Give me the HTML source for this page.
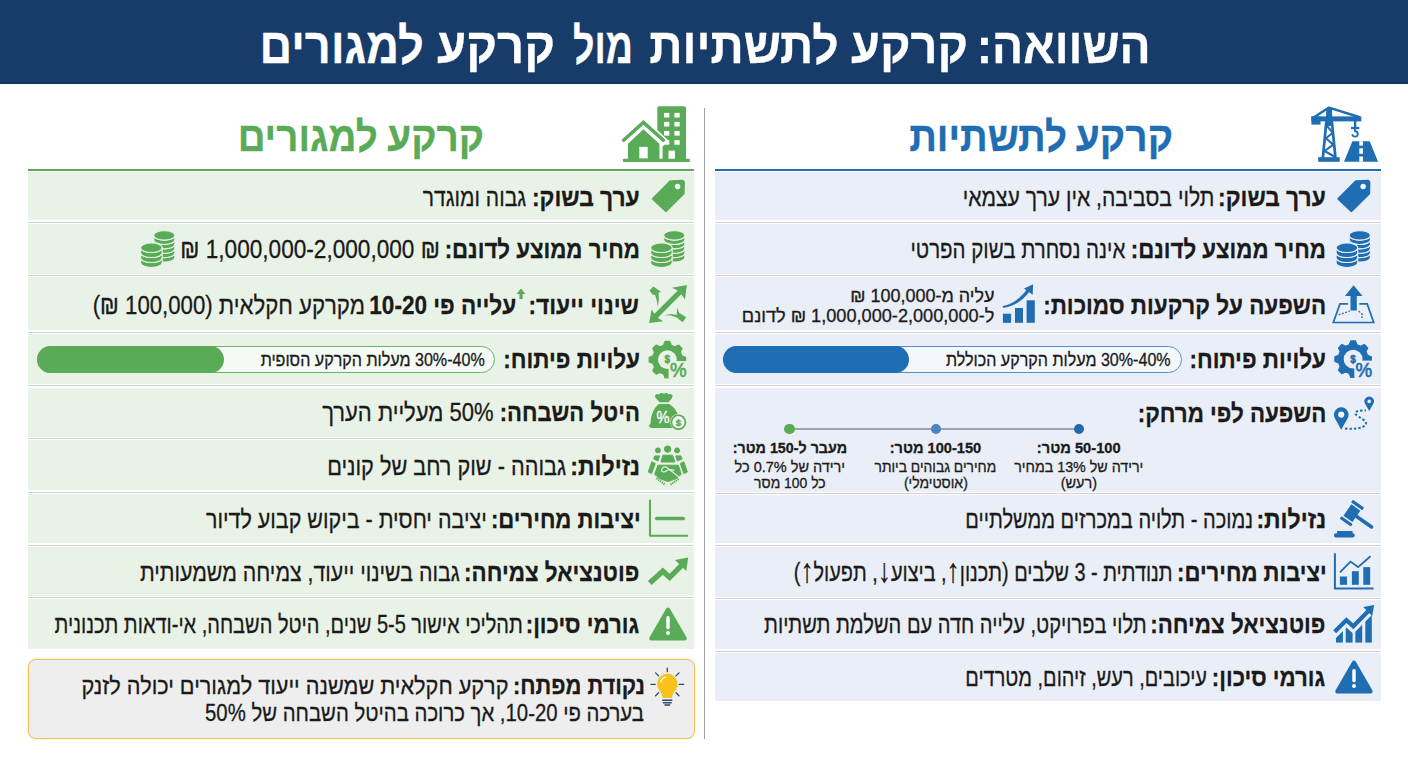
<!DOCTYPE html>
<html lang="he">
<head>
<meta charset="utf-8">
<title>השוואה: קרקע לתשתיות מול קרקע למגורים</title>
<style>
html,body{margin:0;padding:0}
body{width:1408px;height:768px;position:relative;overflow:hidden;background:#fff;font-family:'Liberation Sans', sans-serif}
.t{position:absolute;white-space:nowrap;direction:rtl;transform-origin:right center;font-family:'Liberation Sans', sans-serif}
.row{position:absolute}
.sep{position:absolute;height:1px;background:#cfd0d2}
.abs{position:absolute}
svg{position:absolute;overflow:visible}
</style>
</head>
<body>

<div class="abs" style="left:0;top:0;width:1408px;height:84.4px;background:#183c69;box-shadow:inset 0 -1.5px 0 #11305a"></div>
<div class="abs" style="left:704px;top:108px;width:1.3px;height:631px;background:#a3a4a8"></div>
<div class="abs" style="left:715px;top:168.7px;width:666px;height:2.3px;background:#1f6db3"></div>
<div class="abs" style="left:27.5px;top:168.7px;width:666.5px;height:2.3px;background:#5aab57"></div>
<div class="row" style="left:715px;width:666px;top:172px;height:48px;background:#eaeef7"></div>
<div class="row" style="left:715px;width:666px;top:224px;height:50px;background:#eaeef7"></div>
<div class="row" style="left:715px;width:666px;top:277px;height:53px;background:#eaeef7"></div>
<div class="row" style="left:715px;width:666px;top:334px;height:50px;background:#eaeef7"></div>
<div class="row" style="left:715px;width:666px;top:387.5px;height:104.5px;background:#eaeef7"></div>
<div class="row" style="left:715px;width:666px;top:495px;height:48px;background:#eaeef7"></div>
<div class="row" style="left:715px;width:666px;top:547px;height:49.5px;background:#eaeef7"></div>
<div class="row" style="left:715px;width:666px;top:599.5px;height:49.5px;background:#eaeef7"></div>
<div class="row" style="left:715px;width:666px;top:653px;height:48.299999999999955px;background:#eaeef7"></div>
<div class="row" style="left:27.5px;width:666.5px;top:172px;height:48px;background:#e9f2e6"></div>
<div class="row" style="left:27.5px;width:666.5px;top:224px;height:50px;background:#e9f2e6"></div>
<div class="row" style="left:27.5px;width:666.5px;top:277px;height:53px;background:#e9f2e6"></div>
<div class="row" style="left:27.5px;width:666.5px;top:334px;height:50px;background:#e9f2e6"></div>
<div class="row" style="left:27.5px;width:666.5px;top:387.5px;height:49.0px;background:#e9f2e6"></div>
<div class="row" style="left:27.5px;width:666.5px;top:440px;height:50px;background:#e9f2e6"></div>
<div class="row" style="left:27.5px;width:666.5px;top:494px;height:49px;background:#e9f2e6"></div>
<div class="row" style="left:27.5px;width:666.5px;top:547px;height:49px;background:#e9f2e6"></div>
<div class="row" style="left:27.5px;width:666.5px;top:599px;height:49.799999999999955px;background:#e9f2e6"></div>
<div class="sep" style="left:715px;width:666px;top:221.5px"></div>
<div class="sep" style="left:715px;width:666px;top:275.0px"></div>
<div class="sep" style="left:715px;width:666px;top:331.5px"></div>
<div class="sep" style="left:715px;width:666px;top:385.25px"></div>
<div class="sep" style="left:715px;width:666px;top:493.0px"></div>
<div class="sep" style="left:715px;width:666px;top:544.5px"></div>
<div class="sep" style="left:715px;width:666px;top:597.5px"></div>
<div class="sep" style="left:715px;width:666px;top:650.5px"></div>
<div class="sep" style="left:27.5px;width:666.5px;top:221.5px"></div>
<div class="sep" style="left:27.5px;width:666.5px;top:275.0px"></div>
<div class="sep" style="left:27.5px;width:666.5px;top:331.5px"></div>
<div class="sep" style="left:27.5px;width:666.5px;top:385.25px"></div>
<div class="sep" style="left:27.5px;width:666.5px;top:437.75px"></div>
<div class="sep" style="left:27.5px;width:666.5px;top:491.5px"></div>
<div class="sep" style="left:27.5px;width:666.5px;top:544.5px"></div>
<div class="sep" style="left:27.5px;width:666.5px;top:597.0px"></div>
<!-- progress bars -->
<div class="abs" style="left:723px;top:346.4px;width:458.5px;height:26.6px;border-radius:14px;box-sizing:border-box;border:1.3px solid #5a8ec6;background:#f4f7fc"></div>
<div class="abs" style="left:723px;top:346.4px;width:186px;height:26.6px;border-radius:14px;background:#1f6db3"></div>
<div class="abs" style="left:37px;top:346.4px;width:458px;height:26.6px;border-radius:14px;box-sizing:border-box;border:1.3px solid #6ab368;background:#f5faf4"></div>
<div class="abs" style="left:37px;top:346.4px;width:186.5px;height:26.6px;border-radius:14px;background:#5aab57"></div>
<!-- timeline -->
<div class="abs" style="left:789.5px;top:428px;width:290px;height:2px;background:#9ea3ab"></div>
<div class="abs" style="left:1073.7px;top:423.7px;width:10.6px;height:10.6px;border-radius:50%;background:#2469ae"></div>
<div class="abs" style="left:930.6px;top:423.7px;width:10.6px;height:10.6px;border-radius:50%;background:#4a86bf"></div>
<div class="abs" style="left:784.2px;top:423.7px;width:10.6px;height:10.6px;border-radius:50%;background:#5aab57"></div>
<!-- key box -->
<div class="abs" style="left:28px;top:659px;width:666.5px;height:80px;box-sizing:border-box;border:1.5px solid #e8c25f;border-radius:8px;background:#eeeeee;box-shadow:0 0 3px rgba(236,196,90,.55)"></div>
<svg width="1408" height="768" viewBox="0 0 1408 768" style="left:0;top:0">
<g fill="#1f6db3" stroke="none">
<rect x="1311.4" y="116.4" width="49.9" height="5"/>
<rect x="1311.4" y="116.4" width="9.1" height="8.2"/>
<polygon points="1326.3,108.5 1331.9,108.5 1332.6,126.0 1325.6,126.0"/>
<rect x="1318.2" y="157.2" width="21.5" height="4.6"/>
<rect x="1354" y="121" width="2.3" height="6.2"/>
<rect x="1351" y="126.9" width="8.3" height="2.3"/>
<polygon points="1344.0,161.8 1352.4,141.2 1369.7,141.2 1378.1,161.8"/>
</g>
<g fill="none" stroke="#1f6db3" stroke-linejoin="round" stroke-linecap="round">
<path d="M1314.4,117 L1329,107.6 L1359,117" stroke-width="2.4"/>
<path d="M1326.3,122 L1322.9,157.5 M1331.9,122 L1335.4,157.5" stroke-width="2.7"/>
<path d="M1327.3,126.4 L1332.8,132.8 L1326,138.3 L1333.3,144.7 L1324.6,151 L1334.2,156.5" stroke-width="2.1"/>
<path d="M1355,129.2 L1355,131.3 C1358.6,131.6 1358.8,136.6 1355.2,136.6 C1353.6,136.6 1352.6,135.8 1352.4,134.9" stroke-width="1.9"/>
</g>
<g fill="#ffffff"><rect x="1359.3" y="141.2" width="3.6" height="4.4"/><rect x="1359.3" y="148.3" width="3.6" height="5.5"/><rect x="1359.3" y="156.5" width="3.6" height="5.3"/></g>
<polygon points="1356.0,181.4 1368.2,180.9 1369.2,182.2 1369.0,193.3 1351.4,211.0 1338.6,198.8" fill="#1f6db3" stroke="#1f6db3" stroke-width="2.4" stroke-linejoin="round"/>
<circle cx="1363.1" cy="186.5" r="2.7" fill="#f4f7fc"/>
<polygon points="670.5,181.4 682.7,180.9 683.7,182.2 683.5,193.3 665.9,211.0 653.1,198.8" fill="#5aab57" stroke="#5aab57" stroke-width="2.4" stroke-linejoin="round"/>
<circle cx="677.5999999999999" cy="186.5" r="2.7" fill="#f4faf2"/>
<path d="M1349.2,253.0 L1349.2,257.4 A10.6,4.7 0 0 0 1370.4,257.4 L1370.4,253.0 A10.6,4.7 0 0 1 1349.2,253.0 Z" fill="#1f6db3" stroke="#eaeef7" stroke-width="1.1"/>
<path d="M1349.2,248.6 L1349.2,253.0 A10.6,4.7 0 0 0 1370.4,253.0 L1370.4,248.6 A10.6,4.7 0 0 1 1349.2,248.6 Z" fill="#1f6db3" stroke="#eaeef7" stroke-width="1.1"/>
<path d="M1349.2,244.2 L1349.2,248.6 A10.6,4.7 0 0 0 1370.4,248.6 L1370.4,244.2 A10.6,4.7 0 0 1 1349.2,244.2 Z" fill="#1f6db3" stroke="#eaeef7" stroke-width="1.1"/>
<path d="M1349.2,239.8 L1349.2,244.2 A10.6,4.7 0 0 0 1370.4,244.2 L1370.4,239.8 A10.6,4.7 0 0 1 1349.2,239.8 Z" fill="#1f6db3" stroke="#eaeef7" stroke-width="1.1"/>
<path d="M1349.2,235.4 L1349.2,239.8 A10.6,4.7 0 0 0 1370.4,239.8 L1370.4,235.4 A10.6,4.7 0 0 1 1349.2,235.4 Z" fill="#1f6db3" stroke="#eaeef7" stroke-width="1.1"/>
<ellipse cx="1359.8" cy="235.4" rx="10.6" ry="4.7" fill="#1f6db3" stroke="#eaeef7" stroke-width="1.1"/>
<path d="M1336.1,257.8 L1336.1,262.7 A10.8,4.74 0 0 0 1357.7,262.7 L1357.7,257.8 A10.8,4.74 0 0 1 1336.1,257.8 Z" fill="#1f6db3" stroke="#eaeef7" stroke-width="1.1"/>
<path d="M1336.1,252.8 L1336.1,257.8 A10.8,4.74 0 0 0 1357.7,257.8 L1357.7,252.8 A10.8,4.74 0 0 1 1336.1,252.8 Z" fill="#1f6db3" stroke="#eaeef7" stroke-width="1.1"/>
<path d="M1336.1,247.8 L1336.1,252.8 A10.8,4.74 0 0 0 1357.7,252.8 L1357.7,247.8 A10.8,4.74 0 0 1 1336.1,247.8 Z" fill="#1f6db3" stroke="#eaeef7" stroke-width="1.1"/>
<ellipse cx="1346.9" cy="247.8" rx="10.8" ry="4.74" fill="#1f6db3" stroke="#eaeef7" stroke-width="1.1"/>
<path d="M663.7,253.0 L663.7,257.4 A10.6,4.7 0 0 0 684.9,257.4 L684.9,253.0 A10.6,4.7 0 0 1 663.7,253.0 Z" fill="#5aab57" stroke="#e9f2e6" stroke-width="1.1"/>
<path d="M663.7,248.6 L663.7,253.0 A10.6,4.7 0 0 0 684.9,253.0 L684.9,248.6 A10.6,4.7 0 0 1 663.7,248.6 Z" fill="#5aab57" stroke="#e9f2e6" stroke-width="1.1"/>
<path d="M663.7,244.2 L663.7,248.6 A10.6,4.7 0 0 0 684.9,248.6 L684.9,244.2 A10.6,4.7 0 0 1 663.7,244.2 Z" fill="#5aab57" stroke="#e9f2e6" stroke-width="1.1"/>
<path d="M663.7,239.8 L663.7,244.2 A10.6,4.7 0 0 0 684.9,244.2 L684.9,239.8 A10.6,4.7 0 0 1 663.7,239.8 Z" fill="#5aab57" stroke="#e9f2e6" stroke-width="1.1"/>
<path d="M663.7,235.4 L663.7,239.8 A10.6,4.7 0 0 0 684.9,239.8 L684.9,235.4 A10.6,4.7 0 0 1 663.7,235.4 Z" fill="#5aab57" stroke="#e9f2e6" stroke-width="1.1"/>
<ellipse cx="674.3" cy="235.4" rx="10.6" ry="4.7" fill="#5aab57" stroke="#e9f2e6" stroke-width="1.1"/>
<path d="M650.6,257.8 L650.6,262.7 A10.8,4.74 0 0 0 672.2,262.7 L672.2,257.8 A10.8,4.74 0 0 1 650.6,257.8 Z" fill="#5aab57" stroke="#e9f2e6" stroke-width="1.1"/>
<path d="M650.6,252.8 L650.6,257.8 A10.8,4.74 0 0 0 672.2,257.8 L672.2,252.8 A10.8,4.74 0 0 1 650.6,252.8 Z" fill="#5aab57" stroke="#e9f2e6" stroke-width="1.1"/>
<path d="M650.6,247.8 L650.6,252.8 A10.8,4.74 0 0 0 672.2,252.8 L672.2,247.8 A10.8,4.74 0 0 1 650.6,247.8 Z" fill="#5aab57" stroke="#e9f2e6" stroke-width="1.1"/>
<ellipse cx="661.4" cy="247.8" rx="10.8" ry="4.74" fill="#5aab57" stroke="#e9f2e6" stroke-width="1.1"/>
<path d="M153.7,253.0 L153.7,257.4 A10.6,4.7 0 0 0 174.9,257.4 L174.9,253.0 A10.6,4.7 0 0 1 153.7,253.0 Z" fill="#5aab57" stroke="#e9f2e6" stroke-width="1.1"/>
<path d="M153.7,248.6 L153.7,253.0 A10.6,4.7 0 0 0 174.9,253.0 L174.9,248.6 A10.6,4.7 0 0 1 153.7,248.6 Z" fill="#5aab57" stroke="#e9f2e6" stroke-width="1.1"/>
<path d="M153.7,244.2 L153.7,248.6 A10.6,4.7 0 0 0 174.9,248.6 L174.9,244.2 A10.6,4.7 0 0 1 153.7,244.2 Z" fill="#5aab57" stroke="#e9f2e6" stroke-width="1.1"/>
<path d="M153.7,239.8 L153.7,244.2 A10.6,4.7 0 0 0 174.9,244.2 L174.9,239.8 A10.6,4.7 0 0 1 153.7,239.8 Z" fill="#5aab57" stroke="#e9f2e6" stroke-width="1.1"/>
<path d="M153.7,235.4 L153.7,239.8 A10.6,4.7 0 0 0 174.9,239.8 L174.9,235.4 A10.6,4.7 0 0 1 153.7,235.4 Z" fill="#5aab57" stroke="#e9f2e6" stroke-width="1.1"/>
<ellipse cx="164.3" cy="235.4" rx="10.6" ry="4.7" fill="#5aab57" stroke="#e9f2e6" stroke-width="1.1"/>
<path d="M140.6,257.8 L140.6,262.7 A10.8,4.74 0 0 0 162.2,262.7 L162.2,257.8 A10.8,4.74 0 0 1 140.6,257.8 Z" fill="#5aab57" stroke="#e9f2e6" stroke-width="1.1"/>
<path d="M140.6,252.8 L140.6,257.8 A10.8,4.74 0 0 0 162.2,257.8 L162.2,252.8 A10.8,4.74 0 0 1 140.6,252.8 Z" fill="#5aab57" stroke="#e9f2e6" stroke-width="1.1"/>
<path d="M140.6,247.8 L140.6,252.8 A10.8,4.74 0 0 0 162.2,252.8 L162.2,247.8 A10.8,4.74 0 0 1 140.6,247.8 Z" fill="#5aab57" stroke="#e9f2e6" stroke-width="1.1"/>
<ellipse cx="151.4" cy="247.8" rx="10.8" ry="4.74" fill="#5aab57" stroke="#e9f2e6" stroke-width="1.1"/>
<path d="M1347.9,303.9 L1340,303.9 L1333.3,322.5 L1373.7,322.5 L1367.2,303.9 L1359.4,303.9" fill="none" stroke="#1f6db3" stroke-width="1.7" stroke-linejoin="miter"/>
<polygon points="1353.6,285.3 1362.5,296.0 1356.8,296.0 1356.8,310.4 1350.5,310.4 1350.5,296.0 1345.0,296.0" fill="#1f6db3"/>
<path d="M1338.6,314.7 L1350,311 M1358.7,311 L1362.5,314.7 L1361.5,319.5" fill="none" stroke="#1f6db3" stroke-width="1.2" stroke-dasharray="2 1.4"/>
<polygon points="1349.3,344.7 1350.7,340.9 1355.5,340.9 1356.9,344.7 1360.6,346.2 1364.3,344.5 1367.7,347.9 1366.0,351.6 1367.5,355.3 1371.3,356.7 1371.3,361.5 1367.5,362.9 1366.0,366.6 1367.7,370.3 1364.3,373.7 1360.6,372.0 1356.9,373.5 1355.5,377.3 1350.7,377.3 1349.3,373.5 1345.6,372.0 1341.9,373.7 1338.5,370.3 1340.2,366.6 1338.7,362.9 1334.9,361.5 1334.9,356.7 1338.7,355.3 1340.2,351.6 1338.5,347.9 1341.9,344.5 1345.6,346.2" fill="#1f6db3" stroke="#1f6db3" stroke-width="1.2" stroke-linejoin="round"/>
<circle cx="1353.1" cy="359.1" r="9.4" fill="#eaeef7"/>
<path d="M1354.3,360.6 L1375.1,360.6 L1375.1,381.1 L1354.3,381.1 Z" fill="#eaeef7"/>
<path d="M1361.1,360.6 A8,8 0 0 0 1353.1,351.1" fill="none" stroke="#1f6db3" stroke-width="0"/>
<text x="1363.9" y="376.7" font-family="Liberation Sans, sans-serif" font-weight="normal" font-size="20" text-anchor="middle" fill="#1f6db3" stroke="#1f6db3" stroke-width="0.7" textLength="16.6" lengthAdjust="spacingAndGlyphs">%</text>
<text x="1353.1" y="362.5" font-family="Liberation Sans, sans-serif" font-weight="bold" font-size="10" text-anchor="middle" fill="#1f6db3" stroke="#1f6db3" stroke-width="0.5">$</text>
<polygon points="663.6,345.2 665.0,341.4 669.8,341.4 671.2,345.2 674.9,346.7 678.6,345.0 682.0,348.4 680.3,352.1 681.8,355.8 685.6,357.2 685.6,362.0 681.8,363.4 680.3,367.1 682.0,370.8 678.6,374.2 674.9,372.5 671.2,374.0 669.8,377.8 665.0,377.8 663.6,374.0 659.9,372.5 656.2,374.2 652.8,370.8 654.5,367.1 653.0,363.4 649.2,362.0 649.2,357.2 653.0,355.8 654.5,352.1 652.8,348.4 656.2,345.0 659.9,346.7" fill="#5aab57" stroke="#5aab57" stroke-width="1.2" stroke-linejoin="round"/>
<circle cx="667.4" cy="359.6" r="9.4" fill="#e9f2e6"/>
<path d="M668.6,361.1 L689.4,361.1 L689.4,381.6 L668.6,381.6 Z" fill="#e9f2e6"/>
<path d="M675.4,361.1 A8,8 0 0 0 667.4,351.6" fill="none" stroke="#5aab57" stroke-width="0"/>
<text x="678.2" y="377.2" font-family="Liberation Sans, sans-serif" font-weight="normal" font-size="20" text-anchor="middle" fill="#5aab57" stroke="#5aab57" stroke-width="0.7" textLength="16.6" lengthAdjust="spacingAndGlyphs">%</text>
<text x="667.4" y="363.0" font-family="Liberation Sans, sans-serif" font-weight="bold" font-size="10" text-anchor="middle" fill="#5aab57" stroke="#5aab57" stroke-width="0.5">$</text>
<path d="M1341.2,429.7 L1334.86,418.13 A7.3,7.3 0 1 1 1347.64,418.13 Z" fill="#1f6db3"/>
<circle cx="1341.25" cy="414.6" r="3.1" fill="#f4f7fc"/>
<path d="M1369.2,410.9 L1365.09,403.77 A4.75,4.75 0 1 1 1373.31,403.77 Z" fill="#1f6db3"/>
<circle cx="1369.2" cy="401.4" r="1.8" fill="#f4f7fc"/>
<path d="M1345,428.6 C1353,429.3 1362,428.8 1365.5,425 C1368.5,420.5 1358,417.5 1355.5,414.2 C1354,410.6 1361,410.6 1366,410.4" fill="none" stroke="#1f6db3" stroke-width="2" stroke-dasharray="2.4 2"/>
<g transform="translate(1351.9,513.15) rotate(35)" fill="#1f6db3">
<rect x="-5.5" y="-6.9" width="11" height="13.8"/>
<rect x="-6.9" y="-11.5" width="13.8" height="3.1" rx="1"/>
<rect x="-6.9" y="8.4" width="13.8" height="3.1" rx="1"/>
<rect x="4" y="-1.8" width="21.8" height="3.6" rx="1.8"/>
</g>
<rect x="1337.1" y="531" width="15.5" height="3.5" fill="#1f6db3"/>
<rect x="1334" y="533.3" width="20.7" height="4.2" rx="1.9" fill="#1f6db3"/>
<path d="M1334.9,553.3 L1334.9,588.6 L1373.5,588.6" fill="none" stroke="#1f6db3" stroke-width="2"/>
<g fill="#1f6db3"><rect x="1339.9" y="576.5" width="7.1" height="8.3"/><rect x="1351.9" y="571.2" width="6.9" height="13.6"/><rect x="1363.3" y="567.1" width="6.9" height="17.7"/></g>
<path d="M1339.9,572.3 L1350.5,561.6 L1358.1,567.1 L1370.5,556.3" fill="none" stroke="#1f6db3" stroke-width="1.8"/>
<clipPath id="gc"><rect x="1336" y="600" width="35.9" height="42.8"/></clipPath>
<polygon points="1336.0,642.8 1336.0,637.9 1346.4,627.5 1353.3,633.7 1368.4,618.5 1371.9,615.0 1371.9,642.8" fill="#1f6db3" clip-path="url(#gc)"/>
<rect x="1342.9" y="605" width="2.8" height="40" fill="#eaeef7"/>
<rect x="1352.6" y="605" width="2.7" height="40" fill="#eaeef7"/>
<rect x="1362.2" y="605" width="3.1" height="40" fill="#eaeef7"/>
<polyline points="1334.7,631.8 1346.4,620.1 1353.3,626.3 1368.4,611.1" fill="none" stroke="#eaeef7" stroke-width="7.4"/>
<polyline points="1334.7,631.8 1346.4,620.1 1353.3,626.3 1368.4,611.1" fill="none" stroke="#1f6db3" stroke-width="4.2" stroke-linejoin="miter"/>
<polygon points="1363.2,606.9 1374.2,604.9 1372.2,616.0" fill="#1f6db3"/>
<polygon points="1354.0,662.8 1370.4,691.4 1337.5,691.4" fill="#1f6db3" stroke="#1f6db3" stroke-width="4.4" stroke-linejoin="round"/>
<rect x="1352.3" y="668.9" width="3.4" height="13.4" rx="1.5" fill="#fff"/>
<circle cx="1354" cy="686.0" r="1.95" fill="#fff"/>
<polygon points="668.0,609.8 684.6,638.4 651.5,638.4" fill="#5aab57" stroke="#5aab57" stroke-width="4.4" stroke-linejoin="round"/>
<rect x="666.3" y="615.9" width="3.4" height="13.4" rx="1.5" fill="#fff"/>
<circle cx="668" cy="633.0" r="1.95" fill="#fff"/>
<g fill="#1f6db3"><rect x="1002.9" y="313.7" width="8.2" height="9.1"/><rect x="1015" y="308" width="8" height="14.8"/><rect x="1026.6" y="300.3" width="8.2" height="22.5"/></g>
<path d="M1003.1,307.4 C1013,306.5 1023,300.5 1029.3,291.2 L1027,289.6 C1021,298 1012.5,304.6 1003,306.3 Z" fill="#1f6db3" stroke="#1f6db3" stroke-width="0.6"/>
<polygon points="1024.0,288.4 1033.1,284.2 1032.7,294.7" fill="#1f6db3"/>
<polygon points="657.3,107.6 658.7,106.2 684.6,106.2 686.0,107.6 686.0,159.3 657.3,159.3" fill="#5aab57"/>
<rect x="664" y="112.9" width="5.3" height="4.6" fill="#fff"/>
<rect x="664" y="121.9" width="5.3" height="4.6" fill="#fff"/>
<rect x="664" y="131" width="5.3" height="4.6" fill="#fff"/>
<rect x="664" y="140.1" width="5.3" height="4.6" fill="#fff"/>
<rect x="674.4" y="112.9" width="5.3" height="4.6" fill="#fff"/>
<rect x="674.4" y="121.9" width="5.3" height="4.6" fill="#fff"/>
<rect x="674.4" y="131" width="5.3" height="4.6" fill="#fff"/>
<rect x="674.4" y="140.1" width="5.3" height="4.6" fill="#fff"/>
<rect x="668.5" y="150.6" width="6.4" height="8.4" fill="#fff"/>
<polygon points="643.4,117.0 668.5,140.5 662.6,146.5 662.6,159.3 626.0,159.3 626.0,146.0 619.0,140.5" fill="#fff"/>
<polygon points="628.0,143.8 643.4,129.2 659.4,143.8 659.4,159.3 628.0,159.3" fill="#5aab57"/>
<polyline points="623.6,140.2 643.4,122.4 663.4,140.2" fill="none" stroke="#5aab57" stroke-width="3.5" stroke-linecap="round" stroke-linejoin="miter"/>
<rect x="639.3" y="146.9" width="8.4" height="11.6" fill="#fff"/>
<rect x="622.9" y="158.8" width="67" height="3.2" rx="1" fill="#5aab57"/>
<line x1="655" y1="316.8" x2="681.4" y2="290.5" stroke="#5aab57" stroke-width="5.2"/>
<polygon points="686.9,285.0 672.0,287.7 677.6,290.4 681.6,294.4 684.9,299.4" fill="#5aab57"/>
<polygon points="649.1,323.0 651.7,309.2 654.6,314.4 658.4,318.2 663.4,321.3" fill="#5aab57"/>
<polygon points="649.5,290.5 653.4,286.4 661.2,291.9 658.6,292.6 658.9,299.4 657.8,306.5 656.5,299.4 655.1,294.9 652.5,294.4" fill="#5aab57"/>
<polygon points="664.2,315.2 671.2,314.0 676.7,314.9 677.3,307.4 679.1,312.7 686.2,317.2 682.6,322.2 676.7,317.6 671.2,315.6" fill="#5aab57"/>
<path d="M655,396.6 C654.8,394 657.4,393.4 659,394.6 C660.4,392.7 663,392.7 664,394 C665,392.7 667.6,392.7 668.6,394.4 C670.2,393.3 672.9,394 672.6,396.6 C671.9,399 669.8,400.4 668.7,402.2 L659.4,402.2 C658.2,400.4 655.8,399 655,396.6 Z" fill="#5aab57"/>
<path d="M659,403.9 L669,403.9 C674.5,406.8 678,412.5 679,419 L679,428 L652.4,428 C649.6,428 648.5,426.4 649.4,424.8 C650.4,424.4 650.5,423.6 650.6,422 C651.2,414 654,407.6 659,403.9 Z" fill="#5aab57"/>
<text x="662.9" y="422.6" font-family="Liberation Sans, sans-serif" font-weight="normal" font-size="17.4" text-anchor="middle" fill="#fff" stroke="#fff" stroke-width="0.35" textLength="13" lengthAdjust="spacingAndGlyphs">%</text>
<circle cx="678.4" cy="422.2" r="8.3" fill="#d9f0d4"/>
<circle cx="678.4" cy="422.2" r="7.8" fill="#5aab57"/>
<circle cx="678.4" cy="422.2" r="6.1" fill="#f1f8ef"/>
<text x="678.4" y="425.7" font-family="Liberation Sans, sans-serif" font-weight="bold" font-size="9.8" text-anchor="middle" fill="#5aab57" stroke="#5aab57" stroke-width="0.4">$</text>
<g fill="#5aab57" stroke="#5aab57" stroke-width="1" stroke-linejoin="round">
<circle cx="657.9" cy="450.4" r="2.5"/><circle cx="667.65" cy="449.1" r="3.2"/><circle cx="677.1" cy="450.4" r="2.5"/>
<polygon points="662.9,455.2 672.5,455.2 674.9,462.0 661.0,462.0"/>
<polygon points="654.8,455.9 659.6,455.9 658.0,461.0 653.6,458.8"/>
<polygon points="675.8,455.9 680.8,455.9 682.2,458.8 677.4,461.0"/>
<polygon points="651.8,461.8 655.3,463.6 651.5,473.5 648.2,472.0"/>
<polygon points="683.8,461.8 680.3,463.6 683.8,473.5 687.4,472.0"/>
<polygon points="658.0,465.2 678.4,465.2 681.2,474.3 676.0,478.6 668.0,481.6 659.6,478.6 654.6,474.3"/>
</g>
<path d="M656.2,464.3 C662,465.8 674,465.8 680.2,464.3" fill="none" stroke="#e9f2e6" stroke-width="0"/>
<path d="M661.6,470.8 C661.4,467.4 664.6,465.6 667.2,467.8 L679.4,477.4 M662,471.4 C663.6,473 665.4,471.6 667.6,470.2 C669.6,469.2 672,469.6 674,470.4" fill="none" stroke="#e9f6e6" stroke-width="1.15" stroke-linecap="round"/>
<path d="M656.4,478.2 L665.4,484.8 M678.6,478.8 L670.6,484.6" fill="none" stroke="#5aab57" stroke-width="2.2" stroke-dasharray="1.3 0.9"/>
<path d="M650,500.6 L650,535.7 L687.2,535.7" fill="none" stroke="#5aab57" stroke-width="2.1" stroke-linecap="round" stroke-linejoin="round"/>
<line x1="656.6" y1="518.5" x2="683.4" y2="518.5" stroke="#5aab57" stroke-width="3.3" stroke-linecap="round"/>
<polyline points="649.7,583.0 662.8,571.2 669.7,577.4 681.4,565.7" fill="none" stroke="#5aab57" stroke-width="5.4" stroke-linejoin="miter"/>
<polygon points="675.0,560.0 688.2,557.5 686.3,570.9" fill="#5aab57"/>
<polygon points="521.0,288.6 525.4,294.0 522.6,294.0 522.6,299.0 519.4,299.0 519.4,294.0 516.6,294.0" fill="#5aab57"/>
<g transform="translate(0,0.7)">
<path d="M667.3,673 C673,673 677.5,677.5 677.5,683.2 C677.5,687 675.6,689.4 673.8,691.8 C672.6,693.6 672.2,695.4 672,697.4 L662.6,697.4 C662.4,695.4 662,693.6 660.8,691.8 C659,689.4 657.1,687 657.1,683.2 C657.1,677.5 661.6,673 667.3,673 Z" fill="#f8c21c"/>
<path d="M660.8,681.5 C661.3,678.8 663.2,676.9 665.6,676.4" fill="none" stroke="#fff" stroke-width="1.3" stroke-linecap="round"/>
<g stroke="#2d4a6b" stroke-width="1.5" stroke-linecap="round" fill="none">
<path d="M662.8,699.6 L671.8,699.6 M663.4,702 L671.2,702 M665,704.4 L669.6,704.4"/>
<path d="M667.3,667.4 L667.3,671 M650.9,683.6 L655.3,683.6 M679.3,683.6 L683.7,683.6 M655.6,672.2 L658.6,675.2 M679,672.2 L676,675.2 M655.6,695 L658.6,692 M679,695 L676,692" stroke-width="1.3"/>
</g>
</g>
</svg>

<div class="t" style="right:257.11px;top:18.00px;font-size:50px;line-height:56px;font-weight:bold;color:#ffffff;-webkit-text-stroke:0.3px #ffffff;transform:scaleX(0.9222)">השוואה:</div>
<div class="t" style="right:440.06px;top:18.00px;font-size:50px;line-height:56px;font-weight:bold;color:#ffffff;-webkit-text-stroke:0.3px #ffffff;transform:scaleX(0.9366)">קרקע</div>
<div class="t" style="right:569.28px;top:18.00px;font-size:50px;line-height:56px;font-weight:bold;color:#ffffff;-webkit-text-stroke:0.3px #ffffff;transform:scaleX(0.9249)">לתשתיות</div>
<div class="t" style="right:775.21px;top:18.00px;font-size:50px;line-height:56px;font-weight:bold;color:#ffffff;-webkit-text-stroke:0.3px #ffffff;transform:scaleX(0.7503)">מול</div>
<div class="t" style="right:852.54px;top:18.00px;font-size:50px;line-height:56px;font-weight:bold;color:#ffffff;-webkit-text-stroke:0.3px #ffffff;transform:scaleX(0.9440)">קרקע</div>
<div class="t" style="right:983.88px;top:18.00px;font-size:50px;line-height:56px;font-weight:bold;color:#ffffff;-webkit-text-stroke:0.3px #ffffff;transform:scaleX(0.9031)">למגורים</div>
<div class="t" style="right:234.66px;top:113.00px;font-size:42px;line-height:47px;font-weight:bold;color:#1f6db3;-webkit-text-stroke:0.3px #1f6db3;transform:scaleX(0.9255)">קרקע</div>
<div class="t" style="right:341.22px;top:113.00px;font-size:42px;line-height:47px;font-weight:bold;color:#1f6db3;-webkit-text-stroke:0.3px #1f6db3;transform:scaleX(0.9178)">לתשתיות</div>
<div class="t" style="right:923.97px;top:113.00px;font-size:42px;line-height:47px;font-weight:bold;color:#5aab57;-webkit-text-stroke:0.3px #5aab57;transform:scaleX(0.9216)">קרקע</div>
<div class="t" style="right:1030.19px;top:113.00px;font-size:42px;line-height:47px;font-weight:bold;color:#5aab57;-webkit-text-stroke:0.3px #5aab57;transform:scaleX(0.9173)">למגורים</div>
<div class="t" style="right:82.64px;top:183.00px;font-size:25.5px;line-height:28px;font-weight:bold;color:#1a1a1a;-webkit-text-stroke:0.3px #1a1a1a;transform:scaleX(0.8915)">ערך בשוק:</div>
<div class="t" style="right:194.11px;top:183.00px;font-size:25.5px;line-height:28px;font-weight:normal;color:#1a1a1a;-webkit-text-stroke:0.3px #1a1a1a;transform:scaleX(0.8294)">תלוי בסביבה, אין ערך עצמאי</div>
<div class="t" style="right:82.03px;top:235.00px;font-size:25.5px;line-height:28px;font-weight:bold;color:#1a1a1a;-webkit-text-stroke:0.3px #1a1a1a;transform:scaleX(0.8715)">מחיר ממוצע לדונם:</div>
<div class="t" style="right:282.29px;top:235.00px;font-size:25.5px;line-height:28px;font-weight:normal;color:#1a1a1a;-webkit-text-stroke:0.3px #1a1a1a;transform:scaleX(0.8038)">אינה נסחרת בשוק הפרטי</div>
<div class="t" style="right:81.81px;top:291.00px;font-size:25.5px;line-height:28px;font-weight:bold;color:#1a1a1a;-webkit-text-stroke:0.3px #1a1a1a;transform:scaleX(0.8809)">השפעה על קרקעות סמוכות:</div>
<div class="t" style="right:413.05px;top:285.00px;font-size:19px;line-height:21px;font-weight:normal;color:#1a1a1a;-webkit-text-stroke:0.3px #1a1a1a;transform:scaleX(0.9467)">עליה מ-100,000 ₪</div>
<div class="t" style="right:413.22px;top:305.00px;font-size:19px;line-height:21px;font-weight:normal;color:#1a1a1a;-webkit-text-stroke:0.3px #1a1a1a;transform:scaleX(0.9552)">ל-1,000,000-2,000,000 ₪ לדונם</div>
<div class="t" style="right:82.41px;top:345.00px;font-size:25.5px;line-height:28px;font-weight:bold;color:#1a1a1a;-webkit-text-stroke:0.3px #1a1a1a;transform:scaleX(0.8811)">עלויות פיתוח:</div>
<div class="t" style="right:237.76px;top:350.00px;font-size:18px;line-height:20px;font-weight:normal;color:#1a1a1a;-webkit-text-stroke:0.3px #1a1a1a;transform:scaleX(0.8930)"><span dir="ltr" style="unicode-bidi:isolate">30%-40%</span> מעלות הקרקע הכוללת</div>
<div class="t" style="right:82.03px;top:399.00px;font-size:25.5px;line-height:28px;font-weight:bold;color:#1a1a1a;-webkit-text-stroke:0.3px #1a1a1a;transform:scaleX(0.8758)">השפעה לפי מרחק:</div>
<div class="t" style="right:287.04px;top:439.00px;font-size:15.5px;line-height:17px;font-weight:bold;color:#1a1a1a;-webkit-text-stroke:0.3px #1a1a1a;transform:scaleX(0.9457)">50-100 מטר:</div>
<div class="t" style="right:264.58px;top:458.00px;font-size:15.5px;line-height:17px;font-weight:normal;color:#1a1a1a;-webkit-text-stroke:0.3px #1a1a1a;transform:scaleX(0.9199)">ירידה של 13% במחיר</div>
<div class="t" style="right:310.61px;top:474.00px;font-size:15.5px;line-height:17px;font-weight:normal;color:#1a1a1a;-webkit-text-stroke:0.3px #1a1a1a;transform:scaleX(0.9324)">(רעש)</div>
<div class="t" style="right:426.32px;top:439.00px;font-size:15.5px;line-height:17px;font-weight:bold;color:#1a1a1a;-webkit-text-stroke:0.3px #1a1a1a;transform:scaleX(0.9421)">100-150 מטר:</div>
<div class="t" style="right:411.41px;top:458.00px;font-size:15.5px;line-height:17px;font-weight:normal;color:#1a1a1a;-webkit-text-stroke:0.3px #1a1a1a;transform:scaleX(0.8937)">מחירים גבוהים ביותר</div>
<div class="t" style="right:440.25px;top:474.00px;font-size:15.5px;line-height:17px;font-weight:normal;color:#1a1a1a;-webkit-text-stroke:0.3px #1a1a1a;transform:scaleX(0.9029)">(אוסטימלי)</div>
<div class="t" style="right:561.01px;top:439.00px;font-size:15.5px;line-height:17px;font-weight:bold;color:#1a1a1a;-webkit-text-stroke:0.3px #1a1a1a;transform:scaleX(0.9218)">מעבר ל-150 מטר:</div>
<div class="t" style="right:562.95px;top:458.00px;font-size:15.5px;line-height:17px;font-weight:normal;color:#1a1a1a;-webkit-text-stroke:0.3px #1a1a1a;transform:scaleX(0.9356)">ירידה של 0.7% כל</div>
<div class="t" style="right:581.94px;top:474.00px;font-size:15.5px;line-height:17px;font-weight:normal;color:#1a1a1a;-webkit-text-stroke:0.3px #1a1a1a;transform:scaleX(0.8981)">כל 100 מסר</div>
<div class="t" style="right:81.82px;top:505.00px;font-size:25.5px;line-height:28px;font-weight:bold;color:#1a1a1a;-webkit-text-stroke:0.3px #1a1a1a;transform:scaleX(0.9041)">נזילות:</div>
<div class="t" style="right:155.47px;top:505.00px;font-size:25.5px;line-height:28px;font-weight:normal;color:#1a1a1a;-webkit-text-stroke:0.3px #1a1a1a;transform:scaleX(0.7859)">נמוכה - תלויה במכרזים ממשלתיים</div>
<div class="t" style="right:81.86px;top:558.00px;font-size:25.5px;line-height:28px;font-weight:bold;color:#1a1a1a;-webkit-text-stroke:0.3px #1a1a1a;transform:scaleX(0.8664)">יציבות מחירים:</div>
<div class="t" style="right:235.85px;top:558.00px;font-size:25.5px;line-height:28px;font-weight:normal;color:#1a1a1a;-webkit-text-stroke:0.3px #1a1a1a;transform:scaleX(0.7801)">תנודתית - 3 שלבים (תכנון<span style="font-size:1.32em;line-height:0;position:relative;top:0.04em">↑</span>, ביצוע<span style="font-size:1.32em;line-height:0;position:relative;top:0.04em">↓</span>, תפעול<span style="font-size:1.32em;line-height:0;position:relative;top:0.04em">↑</span>)</div>
<div class="t" style="right:82.44px;top:610.00px;font-size:25.5px;line-height:28px;font-weight:bold;color:#1a1a1a;-webkit-text-stroke:0.3px #1a1a1a;transform:scaleX(0.8788)">פוטנציאל צמיחה:</div>
<div class="t" style="right:261.80px;top:610.00px;font-size:25.5px;line-height:28px;font-weight:normal;color:#1a1a1a;-webkit-text-stroke:0.3px #1a1a1a;transform:scaleX(0.7878)">תלוי בפרויקט, עלייה חדה עם השלמת תשתיות</div>
<div class="t" style="right:83.16px;top:663.00px;font-size:25.5px;line-height:28px;font-weight:bold;color:#1a1a1a;-webkit-text-stroke:0.3px #1a1a1a;transform:scaleX(0.8705)">גורמי סיכון:</div>
<div class="t" style="right:201.34px;top:663.00px;font-size:25.5px;line-height:28px;font-weight:normal;color:#1a1a1a;-webkit-text-stroke:0.3px #1a1a1a;transform:scaleX(0.7823)">עיכובים, רעש, זיהום, מטרדים</div>
<div class="t" style="right:768.54px;top:183.00px;font-size:25.5px;line-height:28px;font-weight:bold;color:#1a1a1a;-webkit-text-stroke:0.3px #1a1a1a;transform:scaleX(0.8923)">ערך בשוק:</div>
<div class="t" style="right:881.41px;top:183.00px;font-size:25.5px;line-height:28px;font-weight:normal;color:#1a1a1a;-webkit-text-stroke:0.3px #1a1a1a;transform:scaleX(0.8266)">גבוה ומוגדר</div>
<div class="t" style="right:767.92px;top:235.00px;font-size:25.5px;line-height:28px;font-weight:bold;color:#1a1a1a;-webkit-text-stroke:0.3px #1a1a1a;transform:scaleX(0.8720)">מחיר ממוצע לדונם:</div>
<div class="t" style="right:967.63px;top:235.00px;font-size:25.5px;line-height:28px;font-weight:normal;color:#1a1a1a;-webkit-text-stroke:0.3px #1a1a1a;transform:scaleX(0.8865)">₪ 1,000,000-2,000,000 ₪</div>
<div class="t" style="right:768.81px;top:291.00px;font-size:25.5px;line-height:28px;font-weight:bold;color:#1a1a1a;-webkit-text-stroke:0.3px #1a1a1a;transform:scaleX(0.8913)">שינוי ייעוד:</div>
<div class="t" style="right:892.20px;top:291.00px;font-size:25.5px;line-height:28px;font-weight:bold;color:#1a1a1a;-webkit-text-stroke:0.3px #1a1a1a;transform:scaleX(0.8838)">עלייה פי 10-20</div>
<div class="t" style="right:1043.02px;top:291.00px;font-size:25.5px;line-height:28px;font-weight:normal;color:#1a1a1a;-webkit-text-stroke:0.3px #1a1a1a;transform:scaleX(0.8700)">מקרקע חקלאית (100,000 ₪)</div>
<div class="t" style="right:768.30px;top:345.00px;font-size:25.5px;line-height:28px;font-weight:bold;color:#1a1a1a;-webkit-text-stroke:0.3px #1a1a1a;transform:scaleX(0.8818)">עלויות פיתוח:</div>
<div class="t" style="right:923.36px;top:350.00px;font-size:18px;line-height:20px;font-weight:normal;color:#1a1a1a;-webkit-text-stroke:0.3px #1a1a1a;transform:scaleX(0.8938)"><span dir="ltr" style="unicode-bidi:isolate">30%-40%</span> מעלות הקרקע הסופית</div>
<div class="t" style="right:768.03px;top:398.00px;font-size:25.5px;line-height:28px;font-weight:bold;color:#1a1a1a;-webkit-text-stroke:0.3px #1a1a1a;transform:scaleX(0.8660)">היטל השבחה:</div>
<div class="t" style="right:914.16px;top:398.00px;font-size:25.5px;line-height:28px;font-weight:normal;color:#1a1a1a;-webkit-text-stroke:0.3px #1a1a1a;transform:scaleX(0.8633)">50% מעליית הערך</div>
<div class="t" style="right:767.72px;top:452.00px;font-size:25.5px;line-height:28px;font-weight:bold;color:#1a1a1a;-webkit-text-stroke:0.3px #1a1a1a;transform:scaleX(0.9055)">נזילות:</div>
<div class="t" style="right:842.15px;top:452.00px;font-size:25.5px;line-height:28px;font-weight:normal;color:#1a1a1a;-webkit-text-stroke:0.3px #1a1a1a;transform:scaleX(0.8501)">גבוהה - שוק רחב של קונים</div>
<div class="t" style="right:767.76px;top:505.00px;font-size:25.5px;line-height:28px;font-weight:bold;color:#1a1a1a;-webkit-text-stroke:0.3px #1a1a1a;transform:scaleX(0.8670)">יציבות מחירים:</div>
<div class="t" style="right:921.61px;top:505.00px;font-size:25.5px;line-height:28px;font-weight:normal;color:#1a1a1a;-webkit-text-stroke:0.3px #1a1a1a;transform:scaleX(0.8414)">יציבה יחסית - ביקוש קבוע לדיור</div>
<div class="t" style="right:768.34px;top:558.00px;font-size:25.5px;line-height:28px;font-weight:bold;color:#1a1a1a;-webkit-text-stroke:0.3px #1a1a1a;transform:scaleX(0.8793)">פוטנציאל צמיחה:</div>
<div class="t" style="right:948.68px;top:558.00px;font-size:25.5px;line-height:28px;font-weight:normal;color:#1a1a1a;-webkit-text-stroke:0.3px #1a1a1a;transform:scaleX(0.8355)">גבוה בשינוי ייעוד, צמיחה משמעותית</div>
<div class="t" style="right:769.06px;top:610.00px;font-size:25.5px;line-height:28px;font-weight:bold;color:#1a1a1a;-webkit-text-stroke:0.3px #1a1a1a;transform:scaleX(0.8713)">גורמי סיכון:</div>
<div class="t" style="right:885.23px;top:610.00px;font-size:25.5px;line-height:28px;font-weight:normal;color:#1a1a1a;-webkit-text-stroke:0.3px #1a1a1a;transform:scaleX(0.7845)">תהליכי אישור 5-5 שנים, היטל השבחה, אי-ודאות תכנונית</div>
<div class="t" style="right:763.39px;top:672.00px;font-size:24px;line-height:27px;font-weight:bold;color:#1a1a1a;-webkit-text-stroke:0.3px #1a1a1a;transform:scaleX(0.9110)">נקודת מפתח:</div>
<div class="t" style="right:899.36px;top:672.00px;font-size:24px;line-height:27px;font-weight:normal;color:#1a1a1a;-webkit-text-stroke:0.3px #1a1a1a;transform:scaleX(0.9037)">קרקע חקלאית שמשנה ייעוד למגורים יכולה לזנק</div>
<div class="t" style="right:763.94px;top:699.00px;font-size:24px;line-height:27px;font-weight:normal;color:#1a1a1a;-webkit-text-stroke:0.3px #1a1a1a;transform:scaleX(0.8474)">בערכה פי 10-20, אך כרוכה בהיטל השבחה של 50%</div>

</body>
</html>
